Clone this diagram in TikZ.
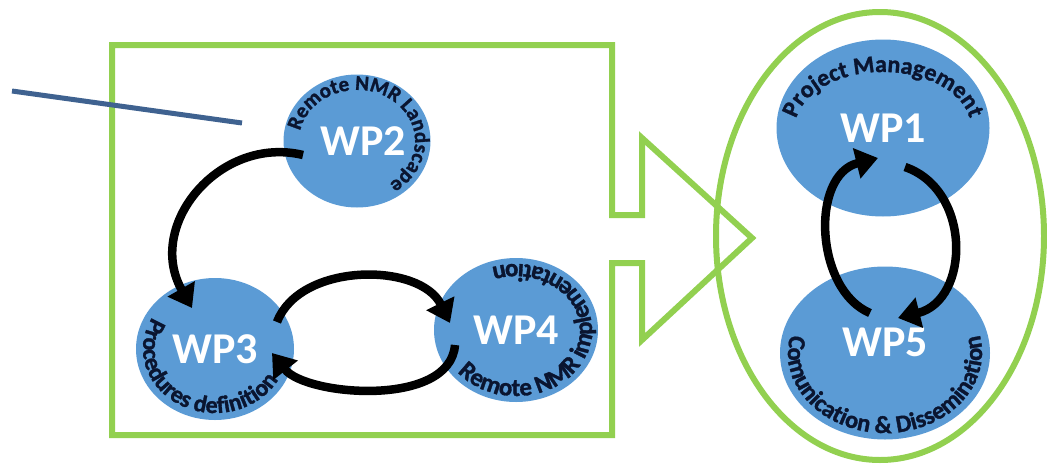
\documentclass[tikz,border=0pt]{standalone}
\usepackage{fontspec}
\setmainfont{Carlito}
\newfontfamily\heavyfont[FakeBold=1.3]{Carlito Bold}
\usetikzlibrary{shapes.geometric,decorations.text,arrows.meta,calc}
\definecolor{wpblue}{HTML}{5B9BD5}
\definecolor{lgreen}{HTML}{92D050}
\definecolor{navy}{HTML}{0A1530}
\definecolor{lineblue}{HTML}{3F6290}
\begin{document}
\begin{tikzpicture}[x=1pt,y=1pt,
  wp/.style={ellipse, fill=wpblue, inner sep=0pt, text=white,
    font=\bfseries\fontsize{44}{44}\selectfont},
  flow/.style={line width=8.5pt, black, -{Triangle[length=22pt,width=30pt]}},
  frame/.style={draw=lgreen, line width=6pt},
  arctext/.style={decorate, decoration={text along path, text align=center, text color=navy}},
  guide/.style={draw=lineblue, line width=5pt}]
\useasboundingbox (0,0) rectangle (1047,-466);

% green frame with arrow
\draw[frame] (112,-45) -- (612,-45) -- (612,-215) -- (642,-215) -- (642,-138)
  -- (752,-238) -- (642,-340) -- (642,-263) -- (612,-263) -- (612,-435)
  -- (112,-435) -- cycle;
\draw[frame] (880,-236) ellipse [x radius=164, y radius=224];

% work packages
\node[wp, minimum width=147pt, minimum height=133pt] (wp2) at (357,-141) {\hspace*{12pt}WP2};
\node[wp, minimum width=158pt, minimum height=142pt] (wp3) at (215,-349) {WP3};
\node[wp, minimum width=164pt, minimum height=144pt] (wp4) at (516,-330) {WP4};
\node[wp, minimum width=213pt, minimum height=177pt] (wp1) at (883,-128) {WP1};
\node[wp, minimum width=210pt, minimum height=173pt, text height=28pt, text depth=22pt] (wp5) at (885,-353) {WP5};

% curved titles
\path[arctext, decoration={text={|\heavyfont\fontsize{21}{21}\selectfont|Remote NMR Landscape}}]
  ($(wp2.center)+(195:58 and 51)$) arc[start angle=195, end angle=-80, x radius=58, y radius=51];
\path[arctext, decoration={text={|\heavyfont\fontsize{24}{24}\selectfont|Procedures definition}}]
  ($(wp3.center)+(105:72 and 64)$) arc[start angle=105, end angle=380, x radius=72, y radius=64];
\path[arctext, decoration={text={|\heavyfont\fontsize{25}{25}\selectfont|Remote NMR implementation}}]
  ($(wp4.center)+(185:76 and 66)$) arc[start angle=185, end angle=501, x radius=76, y radius=66];
\path[arctext, decoration={text={|\heavyfont\fontsize{24}{24}\selectfont|Project Management}}]
  ($(wp1.center)+(195:88 and 56)$) arc[start angle=195, end angle=-15, x radius=88, y radius=56];
\path[arctext, decoration={text={|\heavyfont\fontsize{24.5}{24.5}\selectfont|Comunication {\&} Dissemination}}]
  ($(wp5.center)+(110:97 and 80)$) arc[start angle=110, end angle=430, x radius=97, y radius=80];

% flows
\draw[flow] ($(wp2.center)+(-54,-14)$) .. controls +(-83,20) and +(-47,83) .. ($(wp3.center)+(-23,41)$);
\draw[flow] ($(wp3.center)+(62,27)$) .. controls +(23,60) and +(-30,61) .. ($(wp4.center)+(-66,7)$);
\draw[flow] ($(wp4.center)+(-61,-15)$) .. controls +(-5,-63) and +(34,-43) .. ($(wp3.center)+(57,-4)$);
\draw[flow] ($(wp5.center)+(-15,40)$) .. controls +(-55,23) and +(-68,-17) .. ($(wp1.center)+(-5,-30)$);
\draw[flow] ($(wp1.center)+(22,-39)$) .. controls +(67,-23) and +(72,18) .. ($(wp5.center)+(13,35)$);

% pointer line
\coordinate (g1) at (12,-91);
\coordinate (g2) at (242,-123);
\draw[guide] (g1) -- (g2);
\end{tikzpicture}
\end{document}
